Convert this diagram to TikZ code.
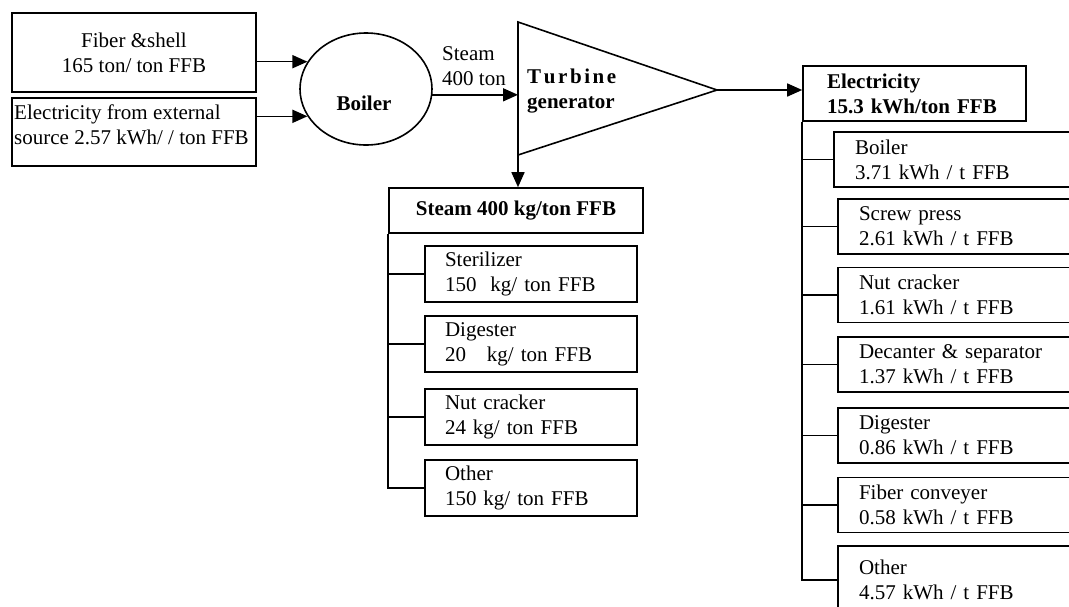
\documentclass[tikz,border=0pt]{standalone}
\usepackage{fontspec}
\setmainfont{Liberation Serif}
\usetikzlibrary{arrows.meta,shapes.geometric}
\begin{document}
\begin{tikzpicture}[x=1pt,y=-1pt,
  every node/.style={font=\fontsize{21}{25}\selectfont, inner sep=0pt},
  ln/.style={line width=1.6pt},
  arr/.style={ln,-{Triangle[length=15pt,width=13pt]}},
  box/.style={draw,ln,rectangle},
  lsub/.style={box,minimum width=212,minimum height=56,text width=172,inner xsep=20,align=left},
  rsub/.style={box,minimum height=55,text width=220,inner xsep=21,align=left},
  lbl/.style={align=left}
]
\useasboundingbox (0,0) rectangle (1069,606);
\clip (0,0) rectangle (1069,606);
\fill[white] (0,0) rectangle (1069,606);

% inputs
\node (fiber) [box,minimum width=244,minimum height=79,align=center] at (134,52.5)
  {Fiber \&shell\\165 ton/ ton FFB};
\node (extbox) [box,minimum width=244,minimum height=68] at (134,132) {};
\node (exttxt) [lbl,anchor=west] at (14,124.5)
  {Electricity from external\\source 2.57 kWh/ / ton FFB};

% boiler
\node (boiler) [draw,ln,ellipse,minimum width=132,minimum height=112] at (366,89) {};
\node (boilertxt) at (364,103) {\textbf{Boiler}};
\draw[arr] (boiler.155 -| fiber.east) -- (boiler.155);
\draw[arr] (boiler.205 -| extbox.east) -- (boiler.205);

% turbine generator
\coordinate (tA) at (518,22);
\coordinate (tB) at (518,155);
\coordinate (tC) at (717,90);
\draw[ln,line join=miter] (tA) -- (tC) -- (tB) -- cycle;
\node (turbtxt) [lbl,anchor=west] at (527,91)
  {\textbf{T\kern2.6pt u\kern2.6pt r\kern2.6pt b\kern2.6pt i\kern2.6pt n\kern2.6pt e}\\\textbf{generator}};
\node (steamlbl) [lbl,anchor=west] at (442,66) {Steam\\400 ton};
\draw[arr] (boiler.-5) -- (boiler.-5 -| tA);

% steam distribution
\node (steam) [box,minimum width=254,minimum height=45] at (516,210.5)
  {\textbf{Steam 400 kg/ton FFB}};
\draw[arr] (tB) -- (tB |- steam.north);
\node (ster) [lsub] at (531,274) {Sterilizer\\150~ kg/ ton FFB};
\node (dig)  [lsub] at (531,344) {Digester\\20~~ kg/ ton FFB};
\node (nut)  [lsub] at (531,417) {Nut cracker\\24 kg/ ton FFB};
\node (oth)  [lsub] at (531,488) {Other\\150 kg/ ton FFB};
\draw[ln] (steam.south west) -- (steam.south west |- oth.west) -- (oth.west);
\foreach \n in {ster,dig,nut}
  \draw[ln] (steam.south west |- \n.west) -- (\n.west);

% electricity distribution
\node (elec) [box,minimum height=55,text width=175,inner xsep=24,align=left] at (914.5,93.5)
  {\textbf{Electricity}\\\textbf{15.3 kWh/ton FFB}};
\draw[arr] (tC) -- (tC -| elec.west);
\node (eboil) [rsub] at (965,159.5) {Boiler\\3.71 kWh / t FFB};
\node (escr)  [rsub] at (969,226.5) {Screw press\\2.61 kWh / t FFB};
\node (enut)  [rsub] at (969,295) {Nut cracker\\1.61 kWh / t FFB};
\node (edec)  [rsub] at (969,364.5) {Decanter \& separator\\1.37 kWh / t FFB};
\node (edig)  [rsub] at (969,435.5) {Digester\\0.86 kWh / t FFB};
\node (efib)  [rsub] at (969,505) {Fiber conveyer\\0.58 kWh / t FFB};
\node (eoth)  [rsub,minimum height=68] at (969,580) {Other\\4.57 kWh / t FFB};
\draw[ln] (elec.south west) -- (elec.south west |- eoth.west) -- (eoth.west);
\foreach \n in {eboil,escr,enut,edec,edig,efib}
  \draw[ln] (elec.south west |- \n.west) -- (\n.west);
\end{tikzpicture}
\end{document}
